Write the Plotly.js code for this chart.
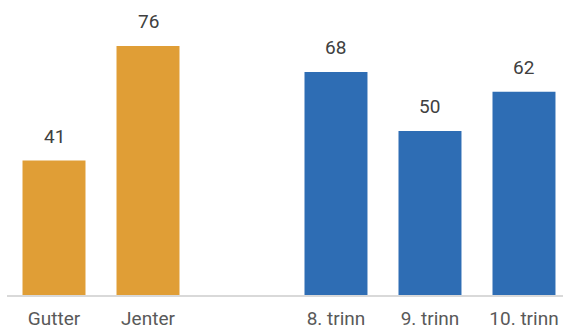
<!DOCTYPE html>
<html>
<head>
<meta charset="utf-8">
<script src="https://cdn.plot.ly/plotly-3.0.1.min.js"></script>
<style>html,body{margin:0;padding:0;background:#fff}#chart{width:563px;height:331px}</style>
</head>
<body>
<div id="chart"></div>
<script>
var genderCats = ['Gutter', 'Jenter'];
var genderVals = [41, 76];
var gradeCats = ['8. trinn', '9. trinn', '10. trinn'];
var gradeVals = [68, 50, 62];
var allCats = genderCats.concat([' ']).concat(gradeCats);

var orange = '#E09E36';
var blue = '#2E6DB4';

var traces = [
  {type: 'bar', x: genderCats, y: genderVals, marker: {color: orange}, width: 0.67, hoverinfo: 'none'},
  {type: 'bar', x: gradeCats, y: gradeVals, marker: {color: blue}, width: 0.67, hoverinfo: 'none'}
];

var annotations = [];
function addLabels(cats, vals) {
  for (var i = 0; i < cats.length; i++) {
    annotations.push({x: cats[i], y: vals[i], text: String(vals[i]), showarrow: false,
      yanchor: 'bottom', yshift: 11, font: {family: 'Roboto, sans-serif', size: 19, color: '#404040'}});
  }
}
addLabels(genderCats, genderVals);
addLabels(gradeCats, gradeVals);

var layout = {
  width: 563, height: 331,
  margin: {l: 7, r: 0, t: 0, b: 36},
  paper_bgcolor: '#fff', plot_bgcolor: '#fff',
  showlegend: false,
  barmode: 'overlay',
  font: {family: 'Roboto, sans-serif', size: 20, color: '#595959'},
  xaxis: {type: 'category', categoryorder: 'array', categoryarray: allCats,
    range: [-0.5, 5.415], showgrid: false, zeroline: false,
    showline: true, linecolor: '#D9D9D9', linewidth: 2,
    ticks: 'outside', ticklen: 5, tickcolor: 'rgba(0,0,0,0)',
    tickfont: {family: 'Roboto, sans-serif', size: 19, color: '#595959'}},
  yaxis: {range: [0, 90], visible: false, showgrid: false, zeroline: false},
  annotations: annotations
};

Plotly.newPlot('chart', traces, layout, {displayModeBar: false, staticPlot: true});
</script>
</body>
</html>
